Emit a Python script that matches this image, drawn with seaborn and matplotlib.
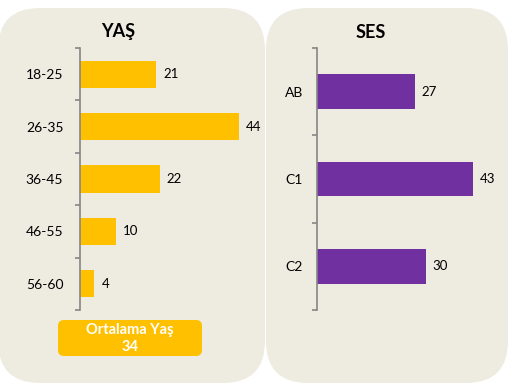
import numpy as np
import matplotlib
matplotlib.use("Agg")
import matplotlib.pyplot as plt
import seaborn as sns
from matplotlib.patches import FancyBboxPatch

# Veriler
yas_kategoriler = ["18-25", "26-35", "36-45", "46-55", "56-60"]
yas_degerler = [21, 44, 22, 10, 4]
ses_kategoriler = ["AB", "C1", "C2"]
ses_degerler = [27, 43, 30]
ortalama_yas = 34

SARI = "#FFC000"
MOR = "#7030A0"
ZEMIN = "#EEEBE0"
GRI = "#868686"

sns.set_theme(style="white")
plt.rcParams['font.family'] = ['Lato', 'DejaVu Sans']

W, H = 517, 390
fig = plt.figure(figsize=(W / 100, H / 100), dpi=100)

# Arka plan paneller (piksel koordinatlarında)
bg = fig.add_axes([0, 0, 1, 1], zorder=0)
bg.set_xlim(0, W)
bg.set_ylim(H, 0)
bg.axis("off")

def panel(x0, y0, x1, y1, r, color):
    p = FancyBboxPatch((x0 + r, y0 + r), (x1 - x0) - 2 * r, (y1 - y0) - 2 * r,
                       boxstyle=f"round,pad={r},rounding_size={r}",
                       facecolor=color, edgecolor="none")
    bg.add_patch(p)

panel(-2, 8, 265, 383, 42, ZEMIN)
panel(266, 8, 508, 383, 42, ZEMIN)

# Ortalama yaş kutusu
panel(58, 320, 202, 356, 6, SARI)
bg.text(130, 330, "Ortalama Yaş", ha="center", va="center", color="white",
        fontsize=10.5, fontweight="bold")
bg.text(130, 347, str(ortalama_yas), ha="center", va="center", color="white",
        fontsize=10.5, fontweight="bold")

# Başlıklar
bg.text(118, 32, "YAŞ", ha="center", va="center", fontsize=13, fontweight="bold", color="black")
bg.text(371, 32, "SES", ha="center", va="center", fontsize=13, fontweight="bold", color="black")


def cubuk_grafik(rect_px, kategoriler, degerler, renk, genislik, pad):
    x0, y0, x1, y1 = rect_px
    ax = fig.add_axes([x0 / W, (H - y1) / H, (x1 - x0) / W, (y1 - y0) / H], zorder=1)
    ax.patch.set_alpha(0)
    sns.barplot(x=degerler, y=kategoriler, orient="h", color=renk, width=genislik,
                saturation=1, linewidth=0, ax=ax)
    ax.set_xlim(0, 50)
    n = len(kategoriler)
    ax.set_ylim(n - 0.5, -0.5)
    for c in ax.containers:
        ax.bar_label(c, padding=5, fontsize=9.5, color="black")
    for s in ["top", "right", "bottom"]:
        ax.spines[s].set_visible(False)
    ax.spines["left"].set_color(GRI)
    ax.spines["left"].set_linewidth(1.2)
    ax.set_xticks([])
    ax.set_yticks(np.arange(-0.5, n), minor=True)
    ax.tick_params(axis="y", which="major", length=0, pad=pad, labelsize=10, labelcolor="black")
    ax.tick_params(axis="y", which="minor", length=3.6, width=1.2, color=GRI, left=True,
                   direction="out")
    ax.set_xlabel("")
    ax.set_ylabel("")
    return ax


cubuk_grafik((80, 48, 261, 310), yas_kategoriler, yas_degerler, SARI, 0.52, 12)
cubuk_grafik((317, 48, 498, 310), ses_kategoriler, ses_degerler, MOR, 0.4, 10)

fig.savefig("out.png", dpi=100, facecolor="white")
